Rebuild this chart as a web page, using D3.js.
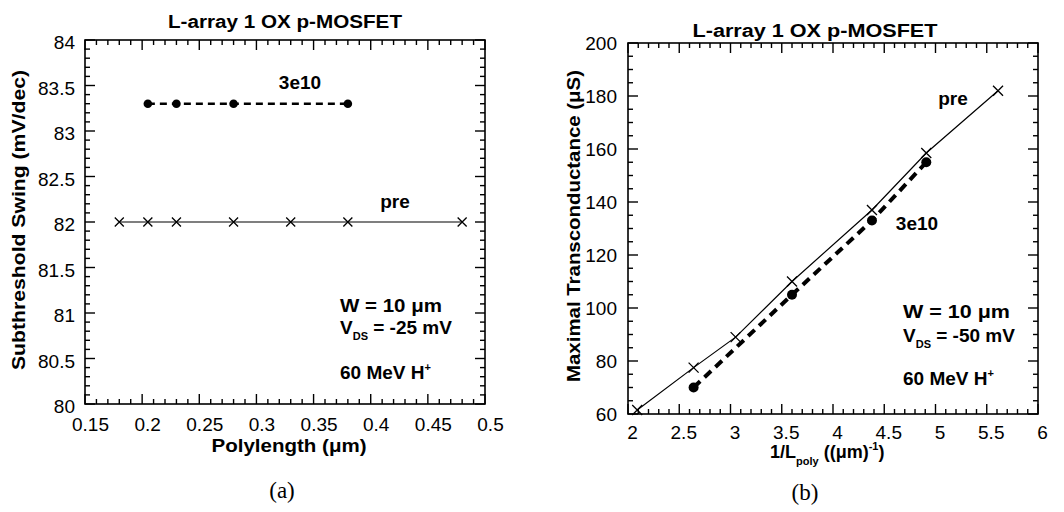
<!DOCTYPE html>
<html><head><meta charset="utf-8">
<script src="https://cdn.jsdelivr.net/npm/d3@7"></script>
<style>
body{margin:0;background:#fff;}
svg{display:block;font-family:"Liberation Sans",Arial,Helvetica,sans-serif;}
</style></head>
<body><svg id="c" width="1064" height="512"></svg>
<script>
// ---- data ----
const polyPre   = [0.18, 0.205, 0.23, 0.28, 0.33, 0.38, 0.48];
const swingPre  = [82, 82, 82, 82, 82, 82, 82];
const poly3e10  = [0.205, 0.23, 0.28, 0.38];
const swing3e10 = [83.3, 83.3, 83.3, 83.3];

const invLPre   = [2.09, 2.64, 3.05, 3.6, 4.38, 4.91, 5.61];
const gmPre     = [61.5, 77.5, 89, 110, 137, 158.5, 182];
const invL3e10  = [2.64, 3.6, 4.38, 4.91];
const gm3e10    = [70, 105, 133, 155];

const xTicksA = ["0.15","0.2","0.25","0.3","0.35","0.4","0.45","0.5"];
const yTicksA = ["80","80.5","81","81.5","82","82.5","83","83.5","84"];
const xTicksB = ["2","2.5","3","3.5","4","4.5","5","5.5","6"];
const yTicksB = ["60","80","100","120","140","160","180","200"];

const svg = d3.select("#c");
const TICK = "#000";

function panel(o){
  const x = d3.scaleLinear().domain(o.xd).range(o.xr);
  const y = d3.scaleLinear().domain(o.yd).range(o.yr);
  const g = svg.append("g");
  const x0 = o.xr[0], x1 = o.xr[1], y0 = o.yr[0], y1 = o.yr[1];
  const xMaj = o.xt.map(Number), yMaj = o.yt.map(Number);
  const xMin = d3.range(Math.round((o.xd[1]-o.xd[0])/o.xm)+1).map(i=>o.xd[0]+i*o.xm);
  const yMin = d3.range(Math.round((o.yd[1]-o.yd[0])/o.ym)+1).map(i=>o.yd[0]+i*o.ym);
  const isMajX = v => xMaj.some(m=>Math.abs(m-v)<1e-6);
  const isMajY = v => yMaj.some(m=>Math.abs(m-v)<1e-6);
  // frame
  g.append("rect").attr("x",x0).attr("y",y1).attr("width",x1-x0).attr("height",y0-y1)
    .attr("fill","none").attr("stroke","#000").attr("stroke-width",1.6);
  const tk = g.append("g").attr("stroke",TICK).attr("stroke-width",1.4);
  tk.selectAll(null).data(xMin).enter().append("line")
    .attr("x1",d=>x(d)).attr("x2",d=>x(d)).attr("y1",y0).attr("y2",d=>y0-(isMajX(d)?10:5));
  tk.selectAll(null).data(xMin).enter().append("line")
    .attr("x1",d=>x(d)).attr("x2",d=>x(d)).attr("y1",y1).attr("y2",d=>y1+(isMajX(d)?10:5));
  tk.selectAll(null).data(yMin).enter().append("line")
    .attr("y1",d=>y(d)).attr("y2",d=>y(d)).attr("x1",x0).attr("x2",d=>x0+(isMajY(d)?10:5));
  tk.selectAll(null).data(yMin).enter().append("line")
    .attr("y1",d=>y(d)).attr("y2",d=>y(d)).attr("x1",x1).attr("x2",d=>x1-(isMajY(d)?10:5));
  // labels through d3 axes
  const lab = s => { s.select(".domain").remove(); s.selectAll(".tick line").remove(); };
  g.append("g").attr("transform",`translate(0,${y0})`)
    .call(d3.axisBottom(x).tickValues(xMaj).tickSize(0).tickPadding(o.xpad).tickFormat((d,i)=>o.xt[i])).call(lab)
    .selectAll("text").attr("font-size",19).attr("fill","#000").attr("dx",o.xdx).attr("font-family","Liberation Sans, Arial, sans-serif");
  g.append("g").attr("transform",`translate(${x0},0)`)
    .call(d3.axisLeft(y).tickValues(yMaj).tickSize(0).tickPadding(o.ypad).tickFormat((d,i)=>o.yt[i])).call(lab)
    .selectAll("text").attr("font-size",19).attr("fill","#000").attr("dy",o.ydy).attr("font-family","Liberation Sans, Arial, sans-serif");
  return {x,y,g};
}

function series(p, xs, ys, kind, lw, dash, r){
  const pts = xs.map((v,i)=>[p.x(v), p.y(ys[i])]);
  p.g.append("path").attr("d", d3.line()(pts)).attr("fill","none").attr("stroke","#000")
    .attr("stroke-width",lw).attr("stroke-dasharray",dash||null);
  if(kind==="x"){
    p.g.selectAll(null).data(pts).enter().append("path")
      .attr("d",d=>`M${d[0]-r},${d[1]-r}L${d[0]+r},${d[1]+r}M${d[0]-r},${d[1]+r}L${d[0]+r},${d[1]-r}`)
      .attr("stroke","#000").attr("stroke-width",1.3).attr("fill","none");
  } else {
    p.g.selectAll(null).data(pts).enter().append("circle")
      .attr("cx",d=>d[0]).attr("cy",d=>d[1]).attr("r",r).attr("fill","#000");
  }
}

function txt(x,y,s,size,opts={}){
  const t = svg.append("text").attr("x",x).attr("y",y).attr("font-size",size)
    .attr("font-weight",opts.w||"bold").attr("fill","#000")
    .attr("text-anchor",opts.a||"start");
  if(opts.f) t.attr("font-family",opts.f);
  if(opts.rot) t.attr("transform",`rotate(-90,${x},${y})`);
  if(opts.len) t.attr("textLength",opts.len).attr("lengthAdjust","spacingAndGlyphs");
  t.text(s);
  return t;
}

// ---------- Panel (a) ----------
const A = panel({xd:[0.15,0.5], xr:[85,485], yd:[80,84], yr:[404,40],
  xt:xTicksA, yt:yTicksA, xm:0.01, ym:0.1, xpad:14, xdx:5, ypad:10, ydy:"0.45em"});
series(A, polyPre, swingPre, "x", 1.2, null, 4.5);
series(A, poly3e10, swing3e10, "o", 2.6, "7,5", 4.3);

txt(285,28,"L-array 1 OX p-MOSFET",18,{a:"middle",len:234});
txt(25,220,"Subthreshold Swing (mV/dec)",18,{a:"middle",rot:true,len:300});
txt(289,452,"Polylength (μm)",18,{a:"middle",len:155});
txt(300,89,"3e10",19,{a:"middle"});
txt(395,208,"pre",19,{a:"middle"});
txt(340,312,"W = 10 μm",19,{len:102});
{
  const t = txt(340,334,"V",19);
  t.append("tspan").attr("font-size",11).attr("dy",6).text("DS");
  t.append("tspan").attr("dy",-6).text(" = -25 mV");
}
{
  const t = txt(340,379,"60 MeV H",19);
  t.append("tspan").attr("font-size",11).attr("dy",-8).text("+");
}
txt(282,498,"(a)",23,{a:"middle",w:"normal",f:"Liberation Serif, Times New Roman, serif"});

// ---------- Panel (b) ----------
const B = panel({xd:[2,6], xr:[628,1038], yd:[60,200], yr:[414,43],
  xt:xTicksB, yt:yTicksB, xm:0.1, ym:5, xpad:12, xdx:4, ypad:11, ydy:"0.32em"});
series(B, invLPre, gmPre, "x", 1.2, null, 5);
series(B, invL3e10, gm3e10, "o", 4, "9,6", 5);

txt(815,37,"L-array 1 OX p-MOSFET",18,{a:"middle",len:245});
txt(580,226,"Maximal Transconductance (μS)",18,{a:"middle",rot:true,len:312});
{
  const t = txt(770,458,"1/L",18);
  t.append("tspan").attr("font-size",11).attr("dy",7).text("poly");
  t.append("tspan").attr("dy",-7).text(" ((μm)");
  t.append("tspan").attr("font-size",11).attr("dy",-8).text("-1");
  t.append("tspan").attr("dy",8).text(")");
}
txt(953,105,"pre",19,{a:"middle"});
txt(917,230,"3e10",19,{a:"middle"});
txt(903,318,"W = 10 μm",19,{len:107});
{
  const t = txt(903,342,"V",19);
  t.append("tspan").attr("font-size",11).attr("dy",6).text("DS");
  t.append("tspan").attr("dy",-6).text(" = -50 mV");
}
{
  const t = txt(903,385,"60 MeV H",19);
  t.append("tspan").attr("font-size",11).attr("dy",-8).text("+");
}
txt(805,500,"(b)",23,{a:"middle",w:"normal",f:"Liberation Serif, Times New Roman, serif"});
</script>
</body></html>
